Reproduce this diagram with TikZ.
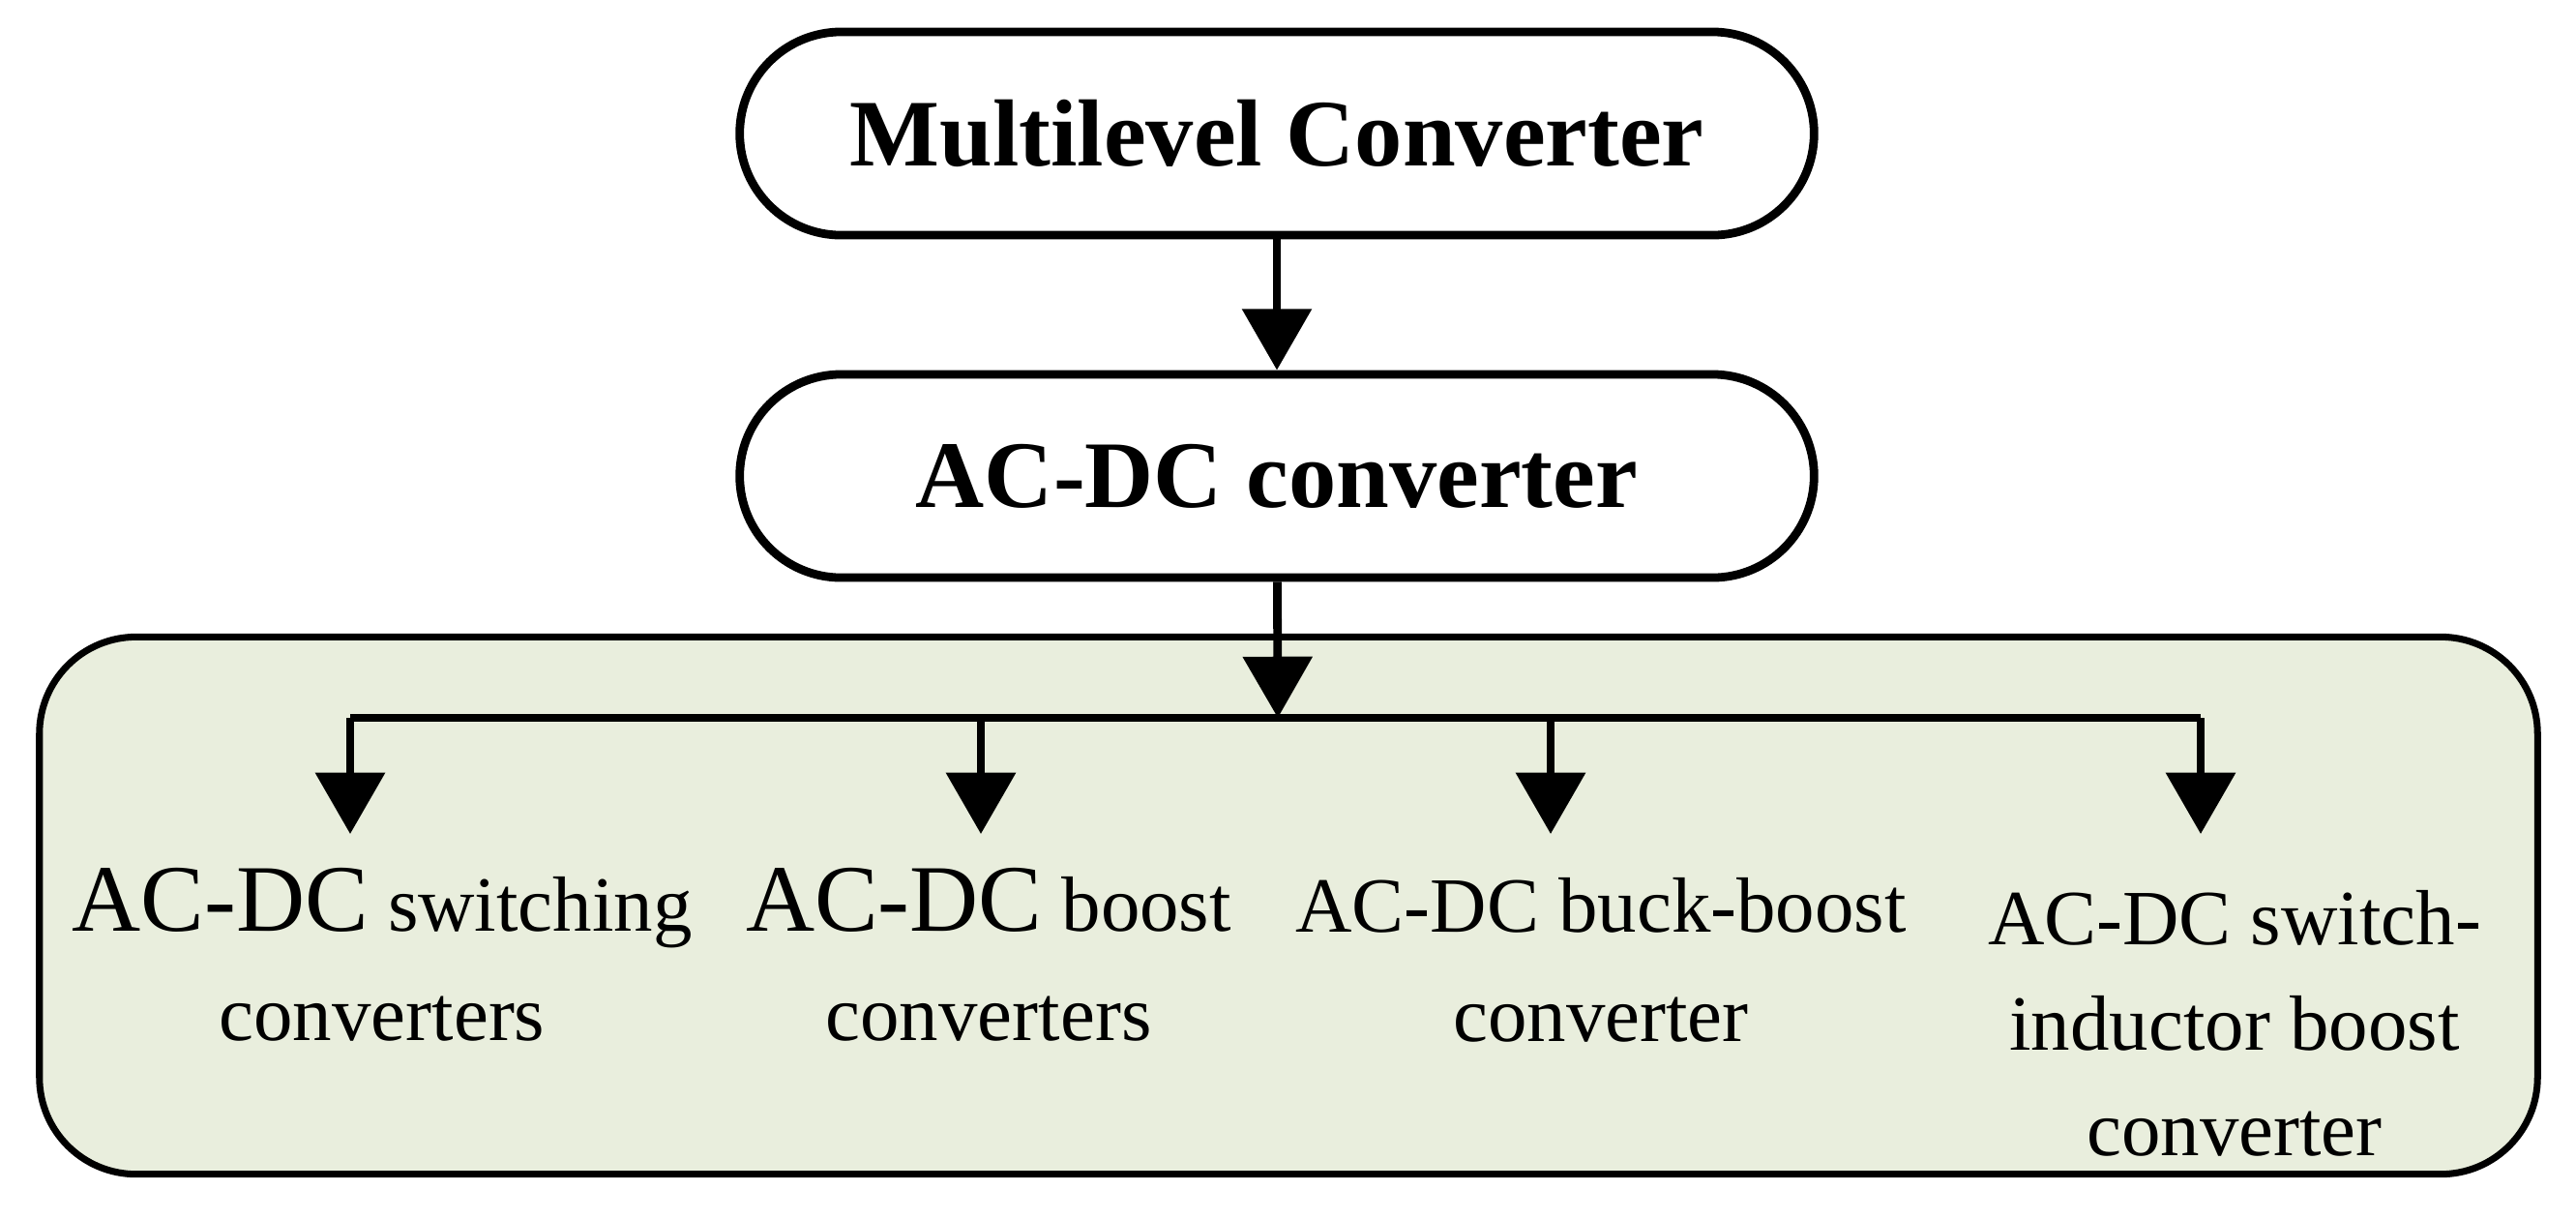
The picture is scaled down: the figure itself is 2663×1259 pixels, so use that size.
\documentclass[tikz,border=0pt]{standalone}
\usepackage{fontspec}
\setmainfont{Liberation Serif}
\usetikzlibrary{arrows.meta}
\definecolor{pale}{HTML}{E9EEDD}
\begin{document}
\begin{tikzpicture}[x=0.01cm,y=-0.01cm,
  top/.style={draw,line width=2.5pt,rounded corners=1.05cm,minimum width=11.1cm,minimum height=2.1cm,font=\fontsize{28}{34}\selectfont\bfseries},
  arr/.style={line width=2.5pt,-{Triangle[length=18pt,width=20pt]}},
  lab/.style={align=center,anchor=north,font=\fontsize{23}{32}\selectfont}]
\useasboundingbox (0,0) rectangle (2663,1259);
\node[draw,line width=2pt,rounded corners=1.0cm,fill=pale,minimum width=25.81cm,minimum height=5.55cm] (g) at (1332,936) {};
\node[top] (a) at (1320,138) {Multilevel Converter};
\node[top] (b) at (1320,492) {AC-DC converter};
\coordinate (j) at (1321,742);
\coordinate (l) at (362,742);
\coordinate (r) at (2275,742);
\draw[arr] (a) -- (b);
\draw[arr] (b) -- (j);
\draw[line width=2.5pt] (l) -- (r);
\node[lab] (t1) at (395,885) {{\fontsize{28}{32}\selectfont AC-DC} switching\\converters};
\node[lab] (t2) at (1022,885) {{\fontsize{28}{32}\selectfont AC-DC} boost\\converters};
\node[lab] (t3) at (1655,895) {AC-DC buck-boost\\converter};
\node[lab,font=\fontsize{23}{31}\selectfont] (t4) at (2310,908) {AC-DC switch-\\inductor boost\\converter};
\foreach \x/\n in {362/1,1014/2,1603/3,2275/4}{
  \coordinate (d\n) at (\x,742);
  \coordinate (e\n) at (\x,862);
  \draw[arr] (d\n) -- (e\n);}
\end{tikzpicture}
\end{document}
